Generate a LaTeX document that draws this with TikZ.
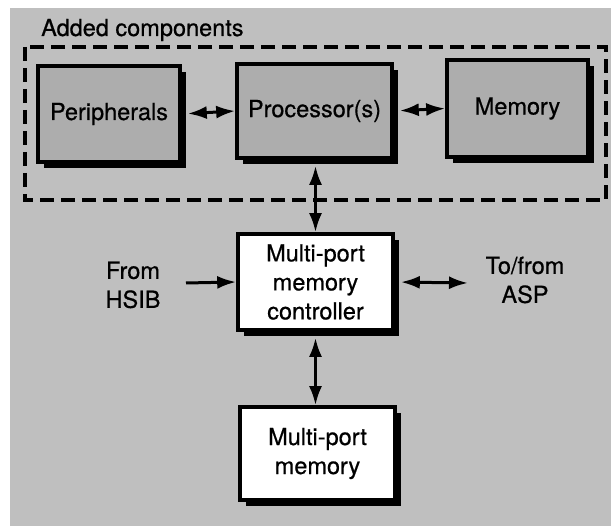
\documentclass[tikz,border=0pt]{standalone}
\usepackage{fontspec}
\setmainfont{TeX Gyre Heros}[FakeBold=0.6]
\usetikzlibrary{arrows.meta,shadows}
\definecolor{bgcol}{gray}{0.75}
\definecolor{boxcol}{gray}{0.68}
\begin{document}
\begin{tikzpicture}[x=1pt,y=-1pt,
  every node/.style={font=\fontsize{23.5}{29}\selectfont},
  blk/.style={draw=black,line width=3.6pt,minimum width=#1,inner sep=0pt,align=center,
     drop shadow={shadow xshift=6pt,shadow yshift=-6pt,fill=black,opacity=1}},
  greybox/.style={blk=#1,fill=boxcol},
  whitebox/.style={blk=#1,fill=white},
  link/.style={line width=3pt,{Latex[length=19pt,width=13pt]}-{Latex[length=19pt,width=13pt]}},
  onelink/.style={line width=3pt,-{Latex[length=19pt,width=13pt]}},
  txt/.style={align=center,inner sep=0pt}]
\useasboundingbox (0,0) rectangle (611,526);
\fill[white] (0,0) rectangle (611,526);
\fill[bgcol] (10,8) rectangle (611,526);
% dashed frame
\draw[line width=3.6pt,dash pattern=on 14pt off 7pt] (25,47) rectangle (606,200);
\node[txt,anchor=west] (title) at (41,30) {Added components};
% top row
\node[greybox=142pt,minimum height=96pt] (periph) at (109,114) {Peripherals};
\node[greybox=155pt,minimum height=94pt] (proc) at (314.5,111) {Processor(s)};
\node[greybox=141pt,minimum height=97pt] (mem) at (517.5,108.5) {Memory};
% controller and memory
\node[whitebox=155pt,minimum height=96pt] (ctrl) at (315.5,282) {Multi-port\\memory\\controller};
\node[whitebox=155pt,minimum height=93pt] (mpm) at (317.5,453.5) {Multi-port\\memory};
% side labels
\node[txt] (hsib) at (133,285) {From\\HSIB};
\node[txt] (asp) at (525,280) {To/from\\ASP};
\coordinate (hsibend) at (186,283);
\coordinate (aspend) at (468,283);
% connectors
\draw[link,shorten <=6pt] (periph.east) -- (proc.west);
\draw[link,shorten <=6pt] (proc.east) -- (mem.west);
\draw[link,shorten <=6pt] (ctrl.north |- proc.south) -- (ctrl.north);
\draw[link,shorten <=6pt] (ctrl.south) -- (ctrl.south |- mpm.north);
\draw[onelink] (hsibend) -- (ctrl.west);
\draw[link,shorten <=6pt] (ctrl.east) -- (aspend);
\end{tikzpicture}
\end{document}
